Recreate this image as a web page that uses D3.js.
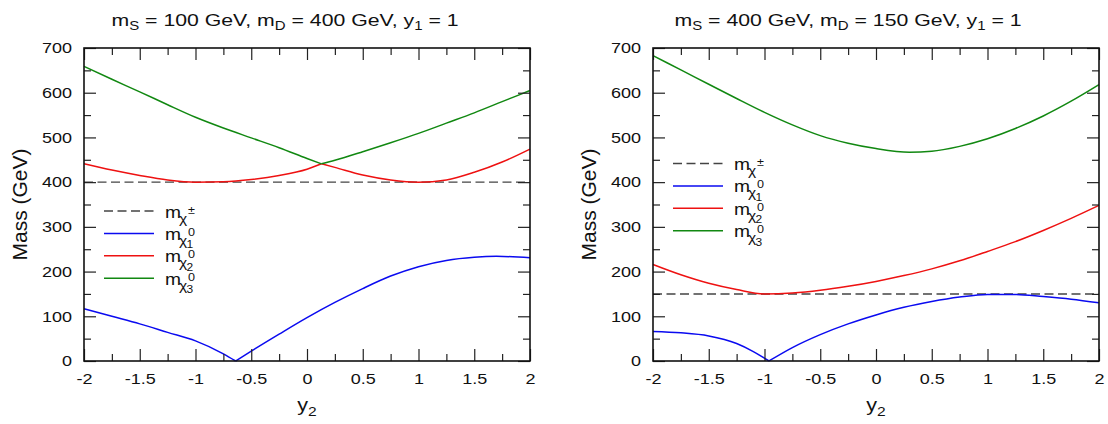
<!doctype html>
<html>
<head>
  <script src="https://d3js.org/d3.v7.min.js"></script>
  <style>
    body { margin: 0; background: #fff; }
    svg text { font-family: "Liberation Sans", Arial, sans-serif; fill: #111; }
  </style>
</head>
<body>
  <svg id="chart" width="1108" height="424"></svg>
  <script>
    // tick values
    var xMajor = [-2, -1.5, -1, -0.5, 0, 0.5, 1, 1.5, 2];
    var xMinor = [-1.75, -1.25, -0.75, -0.25, 0.25, 0.75, 1.25, 1.75];
    var yMajor = [0, 100, 200, 300, 400, 500, 600, 700];
    var yMinor = [50, 150, 250, 350, 450, 550, 650];

    // left panel: mS = 100, mD = 400 (GeV)
    var leftCharged = 400;
    var leftChi1 = [[-2, 117], [-1.75, 100], [-1.5, 83], [-1.25, 64], [-1, 45], [-0.75, 16], [-0.64, 0],
      [-0.5, 22], [-0.25, 60], [0, 97], [0.25, 131], [0.5, 162], [0.75, 190], [1, 211], [1.25, 225],
      [1.5, 232], [1.7, 234], [2, 231]];
    var leftChi2 = [[-2, 441], [-1.75, 427], [-1.5, 415], [-1.25, 405], [-1, 400], [-0.75, 401], [-0.5, 406],
      [-0.25, 415], [0, 429], [0.13, 441], [0.25, 433], [0.5, 416], [0.75, 405], [1, 400], [1.25, 405],
      [1.5, 422], [1.75, 445], [2, 474]];
    var leftChi3 = [[-2, 659], [-1.75, 630], [-1.5, 602], [-1.25, 573], [-1, 545], [-0.75, 521], [-0.5, 499],
      [-0.25, 477], [0, 453], [0.13, 441], [0.25, 449], [0.5, 468], [0.75, 488], [1, 509], [1.25, 532],
      [1.5, 555], [1.75, 580], [2, 605]];
    var leftCusps1 = [-0.64];
    var leftCusps23 = [0.13];

    // right panel: mS = 400, mD = 150
    var rightCharged = 150;
    var rightChi1 = [[-2, 66], [-1.75, 63], [-1.5, 56], [-1.25, 39], [-1.1, 21], [-0.96, 0],
      [-0.75, 30], [-0.5, 59], [-0.25, 83], [0, 103], [0.25, 120], [0.5, 133], [0.75, 143], [1, 149],
      [1.25, 149], [1.5, 144], [1.75, 138], [2, 130]];
    var rightChi2 = [[-2, 216], [-1.75, 193], [-1.5, 174], [-1.25, 160], [-1, 150], [-0.75, 152], [-0.5, 158],
      [-0.25, 167], [0, 178], [0.25, 191], [0.5, 206], [0.75, 224], [1, 245], [1.25, 267], [1.5, 292],
      [1.75, 319], [2, 348]];
    var rightChi3 = [[-2, 683], [-1.75, 651], [-1.5, 619], [-1.25, 587], [-1, 556], [-0.75, 528], [-0.5, 504],
      [-0.25, 487], [0, 475], [0.3, 467], [0.5, 469], [0.75, 480], [1, 497], [1.25, 520], [1.5, 548],
      [1.75, 581], [2, 618]];
    var rightCusps1 = [-0.96];

    var svg = d3.select("#chart");
    var plotTop = 48, plotBottom = 361;
    var sx = 1.2; // the original lettering is a bit wide for its height

    // cut a series into pieces at the kinks so the smooth curve keeps them sharp
    function splitAt(points, cusps) {
      var segs = [[]];
      points.forEach(function (p) {
        segs[segs.length - 1].push(p);
        if (cusps.indexOf(p[0]) >= 0) segs.push([p]);
      });
      return segs;
    }

    function drawPanel(cfg) {
      var x = d3.scaleLinear().domain([-2, 2]).range([cfg.x0, cfg.x1]);
      var y = d3.scaleLinear().domain([0, 700]).range([plotBottom, plotTop]);
      var g = svg.append("g");

      var line = d3.line()
        .x(d => x(d[0]))
        .y(d => y(d[1]))
        .curve(d3.curveMonotoneX);

      // charged line
      g.append("line")
        .attr("x1", x(-2)).attr("x2", x(2))
        .attr("y1", y(cfg.charged)).attr("y2", y(cfg.charged))
        .attr("stroke", "#444").attr("stroke-width", 1.4)
        .attr("stroke-dasharray", "9,4.5");

      cfg.series.forEach(function (s) {
        splitAt(s.data, s.cusps).forEach(function (seg) {
          g.append("path")
            .attr("d", line(seg))
            .attr("fill", "none")
            .attr("stroke", s.color)
            .attr("stroke-width", 1.5);
        });
      });

      // ticks on all four sides, pointing in
      function ticks(axis, vals, size, tr, labels, side) {
        var a = axis.tickValues(vals).tickSize(-size).tickSizeOuter(0).tickPadding(12);
        if (!labels) a.tickFormat("");
        else a.tickFormat(d => String(d));
        var ag = g.append("g").attr("transform", tr).call(a);
        ag.select(".domain").remove();
        ag.selectAll(".tick line").attr("stroke", "#222").attr("stroke-width", 1.2);
        if (labels) {
          ag.selectAll("text").attr("font-size", 15).attr("fill", "#111")
            .attr("font-family", "Liberation Sans, Arial, sans-serif")
            .attr("transform", "scale(" + sx + ",1)");
          if (side == "left") ag.selectAll("text").attr("x", -12 / sx);
        }
        return ag;
      }
      ticks(d3.axisLeft(y), yMajor, 12, "translate(" + cfg.x0 + ",0)", true, "left");
      ticks(d3.axisLeft(y), yMinor, 7, "translate(" + cfg.x0 + ",0)", false);
      ticks(d3.axisRight(y), yMajor, 12, "translate(" + cfg.x1 + ",0)", false);
      ticks(d3.axisRight(y), yMinor, 7, "translate(" + cfg.x1 + ",0)", false);
      ticks(d3.axisBottom(x), xMajor, 12, "translate(0," + plotBottom + ")", true, "bottom");
      ticks(d3.axisBottom(x), xMinor, 7, "translate(0," + plotBottom + ")", false);
      ticks(d3.axisTop(x), xMajor, 12, "translate(0," + plotTop + ")", false);
      ticks(d3.axisTop(x), xMinor, 7, "translate(0," + plotTop + ")", false);

      g.append("rect")
        .attr("x", cfg.x0).attr("y", plotTop)
        .attr("width", cfg.x1 - cfg.x0).attr("height", plotBottom - plotTop)
        .attr("fill", "none").attr("stroke", "#111").attr("stroke-width", 1.6);

      // title
      var t = g.append("text")
        .attr("transform", "translate(" + cfg.titleX + ",26) scale(1.25,1)")
        .attr("text-anchor", "middle").attr("font-size", 17);
      t.append("tspan").text("m");
      t.append("tspan").attr("dy", 4).attr("font-size", 12).text("S");
      t.append("tspan").attr("dy", -4).text(" = " + cfg.mS + " GeV, m");
      t.append("tspan").attr("dy", 4).attr("font-size", 12).text("D");
      t.append("tspan").attr("dy", -4).text(" = " + cfg.mD + " GeV, y");
      t.append("tspan").attr("dy", 4).attr("font-size", 12).text("1");
      t.append("tspan").attr("dy", -4).text(" = 1");

      // axis titles
      var xl = g.append("text")
        .attr("transform", "translate(" + (cfg.x0 + cfg.x1) / 2 + ",411) scale(" + sx + ",1)")
        .attr("text-anchor", "middle").attr("font-size", 18);
      xl.append("tspan").text("y");
      xl.append("tspan").attr("dy", 5).attr("font-size", 13).text("2");

      g.append("text")
        .attr("transform", "translate(" + cfg.yLabelX + "," + (plotTop + plotBottom) / 2 + ") rotate(-90)")
        .attr("text-anchor", "middle").attr("font-size", 21)
        .text("Mass (GeV)");

      // legend
      var legend = [
        { color: "#444", dash: "9,4.5", sup: "\u00b1", sub: "" },
        { color: cfg.series[0].color, dash: null, sup: "0", sub: "1" },
        { color: cfg.series[1].color, dash: null, sup: "0", sub: "2" },
        { color: cfg.series[2].color, dash: null, sup: "0", sub: "3" }
      ];
      legend.forEach(function (l, i) {
        var ly = cfg.legendY + i * 22.4;
        var lx = cfg.legendX;
        g.append("line")
          .attr("x1", lx).attr("x2", lx + 50)
          .attr("y1", ly).attr("y2", ly)
          .attr("stroke", l.color).attr("stroke-width", 1.5)
          .attr("stroke-dasharray", l.dash);
        var lt = g.append("g")
          .attr("transform", "translate(" + (lx + 61) + "," + (ly + 6.5) + ") scale(" + sx + ",1)");
        lt.append("text").attr("x", 0).attr("y", 0).attr("font-size", 16).text("m");
        lt.append("text").attr("x", 14 / sx).attr("y", 5).attr("font-size", 13).text("\u03c7");
        lt.append("text").attr("x", 23 / sx).attr("y", -4).attr("font-size", 10.5).text(l.sup);
        if (l.sub) lt.append("text").attr("x", 21.5 / sx).attr("y", 8.5).attr("font-size", 10).text(l.sub);
      });
    }

    drawPanel({
      x0: 84, x1: 530, titleX: 285, yLabelX: 27,
      mS: 100, mD: 400, charged: leftCharged,
      legendX: 104, legendY: 211,
      series: [
        { data: leftChi1, cusps: leftCusps1, color: "#0a0af0" },
        { data: leftChi2, cusps: leftCusps23, color: "#ee1111" },
        { data: leftChi3, cusps: leftCusps23, color: "#118811" }
      ]
    });

    drawPanel({
      x0: 653, x1: 1099, titleX: 848, yLabelX: 596,
      mS: 400, mD: 150, charged: rightCharged,
      legendX: 673, legendY: 163.5,
      series: [
        { data: rightChi1, cusps: rightCusps1, color: "#0a0af0" },
        { data: rightChi2, cusps: [], color: "#ee1111" },
        { data: rightChi3, cusps: [], color: "#118811" }
      ]
    });
  </script>
</body>
</html>
